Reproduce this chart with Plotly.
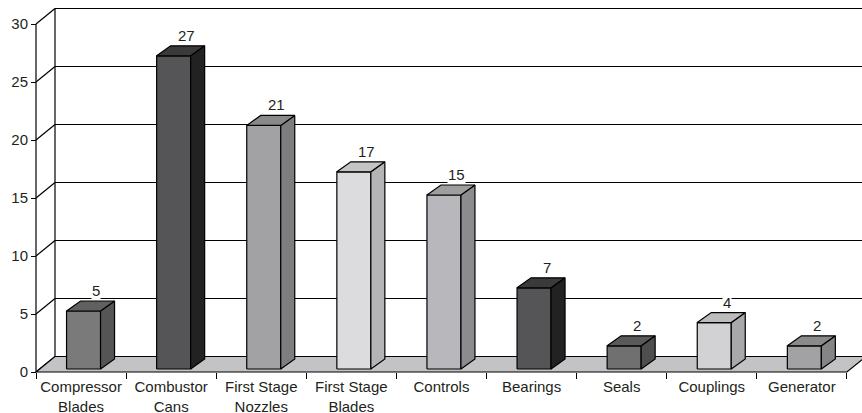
import plotly.graph_objects as go

# ---------------- data ----------------
categories = ["Compressor<br>Blades", "Combustor<br>Cans", "First Stage<br>Nozzles",
              "First Stage<br>Blades", "Controls", "Bearings", "Seals", "Couplings", "Generator"]
values = [5, 27, 21, 17, 15, 7, 2, 4, 2]
y_ticks = [0, 5, 10, 15, 20, 25, 30]

# ---------------- styles ----------------
front_colors = ["#7a7a7a", "#555558", "#a2a2a4", "#dcdcde", "#b8b8bc", "#555558", "#707070", "#d2d2d4", "#a2a2a4"]
top_colors = ["#606060", "#3a3a3a", "#8a8a8a", "#c4c4c4", "#9e9e9e", "#3a3a3a", "#5a5a5a", "#bcbcbc", "#8a8a8a"]
side_colors = ["#555555", "#222222", "#7e7e80", "#b4b4b6", "#8c8c8e", "#222222", "#4e4e4e", "#a8a8aa", "#858587"]
FONT = "Liberation Sans, Arial, sans-serif"
TXT = "#231f20"

W, H = 862, 413
X0_PX, Y0_PX = 36, 372          # pixel of data origin (front-left-bottom)
PX_X, PX_Y = 90.1, 11.6         # pixels per category / per value unit
L_PX, R_PX, T_PX, B_PX = 33, 862, 4, 376  # plot area in pixels

DEPTH_X, DEPTH_Y = 19 / PX_X, 15.5 / PX_Y
BAR_OX, BAR_OY = 2.5 / PX_X, 3 / PX_Y
BAR_DX, BAR_DY = 14 / PX_X, 10 / PX_Y
BAR_HW = 17 / PX_X

n = len(values)
ymax = y_ticks[-1]

fig = go.Figure()


def line(xs, ys, width=1.2, color="black"):
    fig.add_trace(go.Scatter(x=xs, y=ys, mode="lines", line=dict(color=color, width=width),
                             hoverinfo="skip", showlegend=False))


def poly(xs, ys, fill, width=1.2):
    fig.add_trace(go.Scatter(x=xs + [xs[0]], y=ys + [ys[0]], mode="lines", fill="toself",
                             fillcolor=fill, line=dict(color="black", width=width),
                             hoverinfo="skip", showlegend=False))


# back wall grid lines and left-wall diagonals
for v in y_ticks:
    if v > 0:
        line([DEPTH_X, n + DEPTH_X + 1], [v + DEPTH_Y, v + DEPTH_Y])
    line([0, DEPTH_X], [v, v + DEPTH_Y])
line([DEPTH_X, DEPTH_X], [DEPTH_Y, ymax + DEPTH_Y])
line([0, 0], [0, ymax])

# floor
poly([0, n, n + DEPTH_X, DEPTH_X], [0, 0, DEPTH_Y, DEPTH_Y], "#c3c3c5")

# bars
for i, v in enumerate(values):
    cx = i + 0.5 + BAR_OX
    x0, x1 = cx - BAR_HW, cx + BAR_HW
    b, t = BAR_OY, v + BAR_OY
    poly([x0, x1, x1, x0], [b, b, t, t], front_colors[i])
    poly([x1, x1 + BAR_DX, x1 + BAR_DX, x1], [b, b + BAR_DY, t + BAR_DY, t], side_colors[i])
    poly([x0, x1, x1 + BAR_DX, x0 + BAR_DX], [t, t, t + BAR_DY, t + BAR_DY], top_colors[i])
    fig.add_annotation(x=cx + BAR_DX * 0.9, y=t + BAR_DY, text=str(v), showarrow=False,
                       yanchor="bottom", yshift=1, bgcolor="white", borderpad=0,
                       font=dict(family=FONT, size=15, color=TXT))

pw = R_PX - L_PX
ph = B_PX - T_PX
fig.update_layout(
    width=W, height=H,
    margin=dict(l=L_PX, r=W - R_PX, t=T_PX, b=H - B_PX, pad=0, autoexpand=False),
    paper_bgcolor="white", plot_bgcolor="white",
    showlegend=False,
    xaxis=dict(range=[-(X0_PX - L_PX) / PX_X, (R_PX - X0_PX) / PX_X], automargin=False,
               tickmode="array", tickvals=[i + 0.5 for i in range(n)], ticktext=categories,
               ticks="", showgrid=False, zeroline=False, showline=False,
               anchor="free", position=(B_PX - Y0_PX) / ph,
               tickfont=dict(family=FONT, size=15, color=TXT), tickangle=0,
               ticklabelstandoff=4,
               minor=dict(tickmode="array", tickvals=list(range(n + 1)), ticks="outside",
                          ticklen=6, tickwidth=1.2, tickcolor="black", showgrid=False)),
    yaxis=dict(range=[-(B_PX - Y0_PX) / PX_Y, (Y0_PX - T_PX) / PX_Y], automargin=False,
               tickmode="array", tickvals=y_ticks, ticks="outside", ticklen=5,
               tickwidth=1.2, tickcolor="black",
               showgrid=False, zeroline=False, showline=False,
               anchor="free", position=(X0_PX - L_PX) / pw,
               tickfont=dict(family=FONT, size=15, color=TXT)),
)

fig.write_html("out.html", config={"displayModeBar": False},
               post_script="document.body.style.margin='0';document.body.style.overflow='hidden';")
